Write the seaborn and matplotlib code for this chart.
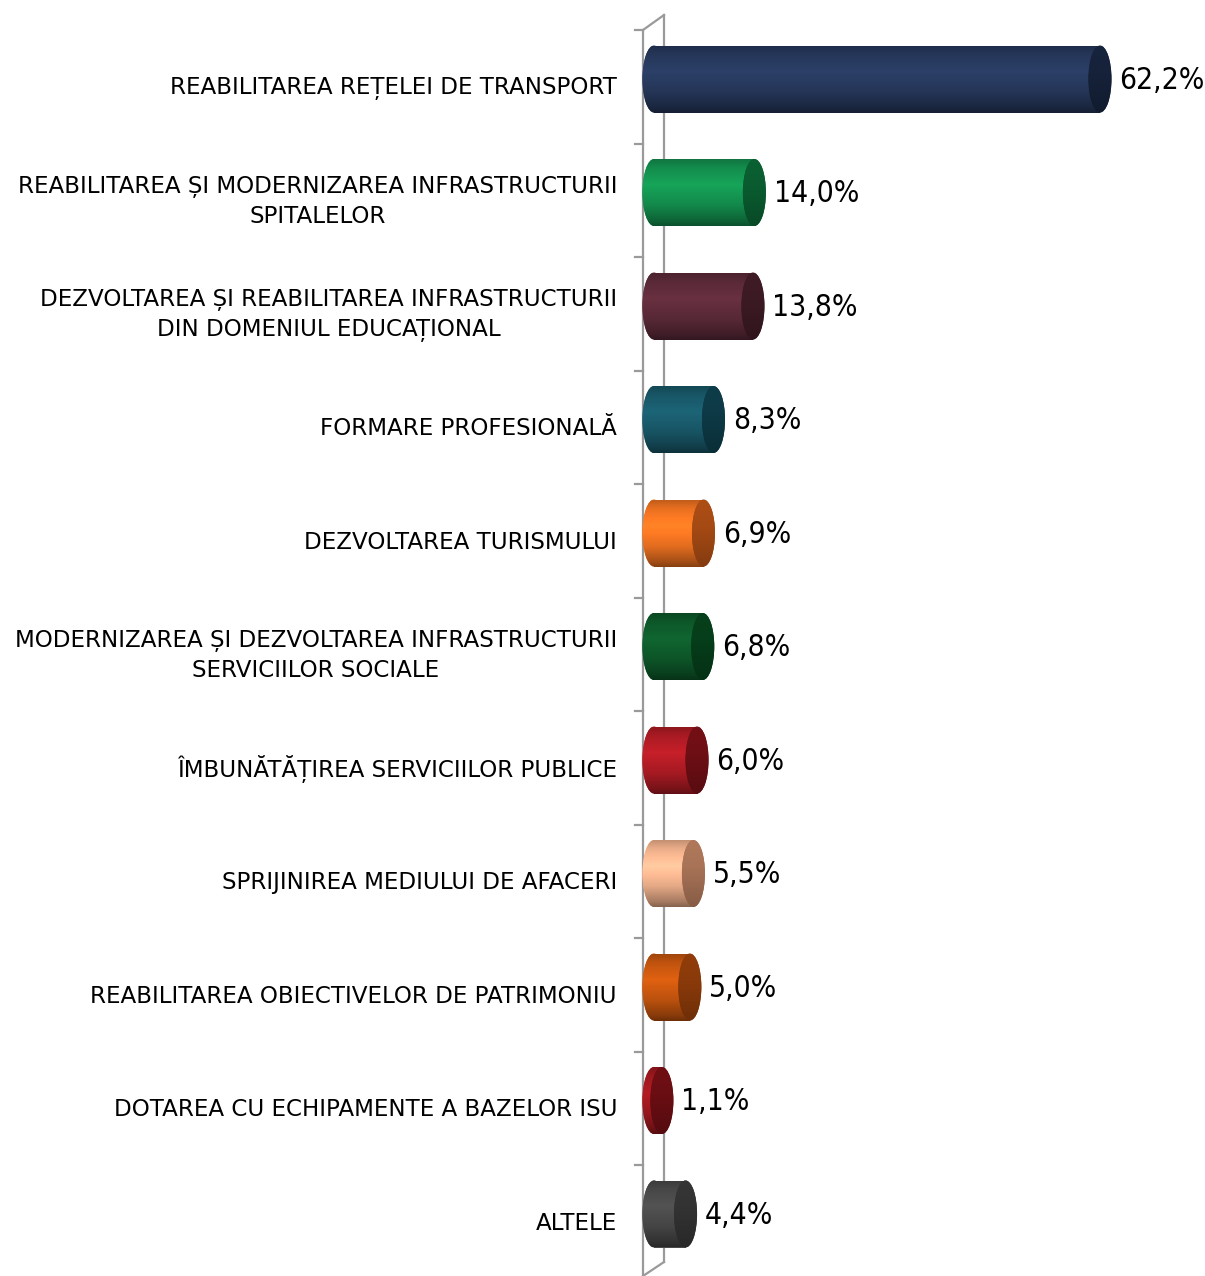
import numpy as np
import matplotlib
matplotlib.use("Agg")
import matplotlib.pyplot as plt
import matplotlib.colors as mcolors
from matplotlib.patches import Ellipse
import seaborn as sns

# date grafic
categorii = [
    "REABILITAREA REȚELEI DE TRANSPORT",
    "REABILITAREA ȘI MODERNIZAREA INFRASTRUCTURII\nSPITALELOR",
    "DEZVOLTAREA ȘI REABILITAREA INFRASTRUCTURII\nDIN DOMENIUL EDUCAȚIONAL",
    "FORMARE PROFESIONALĂ",
    "DEZVOLTAREA TURISMULUI",
    "MODERNIZAREA ȘI DEZVOLTAREA INFRASTRUCTURII\nSERVICIILOR SOCIALE",
    "ÎMBUNĂTĂȚIREA SERVICIILOR PUBLICE",
    "SPRIJINIREA MEDIULUI DE AFACERI",
    "REABILITAREA OBIECTIVELOR DE PATRIMONIU",
    "DOTAREA CU ECHIPAMENTE A BAZELOR ISU",
    "ALTELE",
]
valori = [62.2, 14.0, 13.8, 8.3, 6.9, 6.8, 6.0, 5.5, 5.0, 1.1, 4.4]
etichete = ["62,2%", "14,0%", "13,8%", "8,3%", "6,9%", "6,8%",
            "6,0%", "5,5%", "5,0%", "1,1%", "4,4%"]
culori = ["#27395d", "#149350", "#5e2b3a", "#195a6b", "#f47522", "#0e5b2b",
          "#b21c25", "#f6b690", "#c9570f", "#a2191f", "#4a4a4a"]
culori_capac = ["#16223a", "#0a5c30", "#3c1a24", "#0d3a46", "#a54a14", "#063d1a",
                "#6e0f15", "#a87357", "#8a3a0a", "#6a0e13", "#333333"]

FONT_CAT = dict(family="DejaVu Sans")
FONT_VAL = dict(family="DejaVu Sans", stretch="condensed")

# pixeli -> unitati de date (axa ocupa toata figura)
PX_X = 7.17          # px pe procent
X0 = 654             # px pentru valoarea 0
PX_Y = 113.5         # px pe categorie
Y0 = 79              # px pentru prima categorie
W, H = 1205, 1276

fig = plt.figure(figsize=(W / 100, H / 100), dpi=100)
ax = fig.add_axes([0, 0, 1, 1])

latime = 67 / PX_Y
elips_w = 23 / PX_X

sns.barplot(x=valori, y=categorii, hue=categorii, palette=culori, orient="h",
            width=latime, errorbar=None, legend=False, ax=ax, zorder=3)


def px2x(px):
    return (px - X0) / PX_X


def px2y(py):
    return (py - Y0) / PX_Y


# umbrire cilindru
t = np.linspace(0, 1, 64)
profil = np.interp(t, [0, 0.12, 0.38, 0.7, 0.92, 1.0], [0.8, 0.95, 1.12, 0.92, 0.68, 0.55])
profil_capac = np.interp(t, [0, 0.4, 1.0], [1.05, 1.0, 0.8])

for i, (bar, c, cc) in enumerate(zip(ax.patches, culori, culori_capac)):
    v = valori[i]
    rgb = np.array(mcolors.to_rgb(c))
    img = np.clip(profil[:, None, None] * rgb[None, None, :], 0, 1)
    # capat stang rotunjit
    el_st = Ellipse((0, i), elips_w, latime, facecolor=c, edgecolor="none", zorder=2)
    ax.add_patch(el_st)
    for p in (bar, el_st):
        im = ax.imshow(img, extent=[-elips_w, v, i + latime / 2, i - latime / 2],
                       aspect="auto", zorder=p.get_zorder() + 0.5, interpolation="bilinear")
        im.set_clip_path(p)
    # capac dreapta
    rgbc = np.array(mcolors.to_rgb(cc))
    el_dr = Ellipse((v, i), elips_w, latime, facecolor=cc, edgecolor="none", zorder=5)
    ax.add_patch(el_dr)
    img_c = np.clip(profil_capac[:, None, None] * rgbc[None, None, :], 0, 1)
    im = ax.imshow(img_c, extent=[v - elips_w, v + elips_w, i + latime / 2, i - latime / 2],
                   aspect="auto", zorder=5.5, interpolation="bilinear")
    im.set_clip_path(el_dr)
    ax.text(v + elips_w / 2 + 8 / PX_X, i + 1 / PX_Y, etichete[i], ha="left", va="center",
            fontsize=21.5, color="black", zorder=6, **FONT_VAL)
    ax.text(px2x(617), i + 9 / PX_Y, categorii[i], ha="right", va="center",
            multialignment="center", fontsize=16.6, linespacing=1.42,
            color="black", **FONT_CAT)

# axa 3D
gri = "#9a9a9a"
lw = 1.6
ax.plot([px2x(643), px2x(643)], [px2y(30), px2y(1280)], color=gri, lw=lw, zorder=1)
ax.plot([px2x(664), px2x(664)], [px2y(15), px2y(1262)], color=gri, lw=lw, zorder=1)
ax.plot([px2x(643), px2x(664)], [px2y(30), px2y(15)], color=gri, lw=lw, zorder=1)
ax.plot([px2x(664), px2x(643)], [px2y(1262), px2y(1276)], color=gri, lw=lw, zorder=1)
for k in range(len(categorii)):
    yt = px2y(30) + k
    ax.plot([px2x(635), px2x(643)], [yt, yt], color=gri, lw=lw, zorder=1)

ax.set_xlim(px2x(0), px2x(W))
ax.set_ylim(px2y(H), px2y(0))
ax.axis("off")

fig.savefig("out.png", dpi=100, facecolor="white")
